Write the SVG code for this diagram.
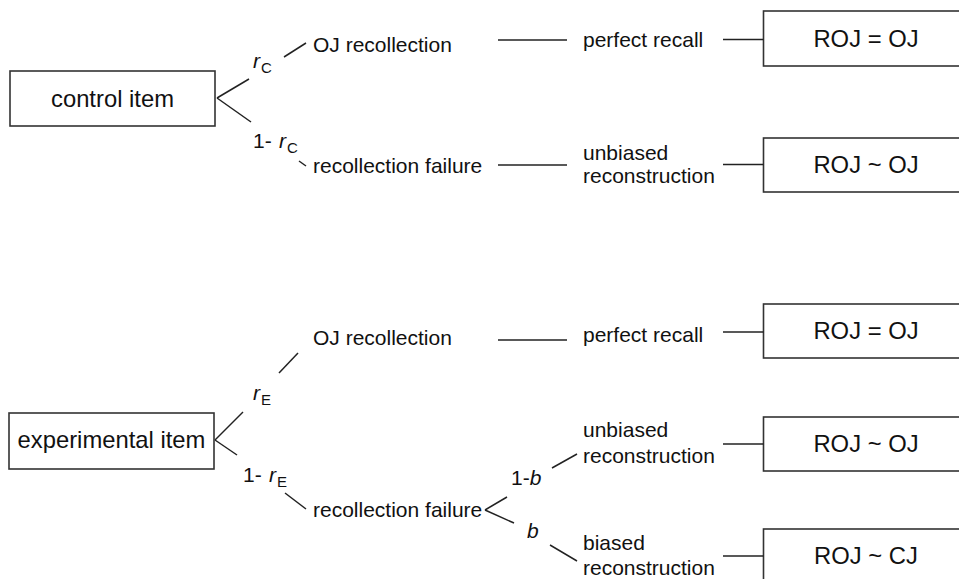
<svg xmlns="http://www.w3.org/2000/svg" width="959" height="579" viewBox="0 0 959 579">
<style>
  .box { fill: #fff; stroke: #333; stroke-width: 1.6; }
  .bt { font-family: "Liberation Sans", Arial, sans-serif; font-size: 23.8px; fill: #111; text-anchor: middle; }
  .lb { font-family: "Liberation Sans", Arial, sans-serif; font-size: 21px; fill: #111; }
  .it { font-style: italic; }
  .sub { font-size: 15px; }
  .ln { stroke: #222; stroke-width: 1.5; fill: none; }
</style>
<rect width="959" height="579" fill="#fff"/>

<g id="control-item">
  <rect class="box" x="10" y="71" width="205" height="55"/>
  <text class="bt" x="112.5" y="107">control item</text>
</g>
<g id="experimental-item">
  <rect class="box" x="9" y="413" width="205" height="56"/>
  <text class="bt" x="111.5" y="448">experimental item</text>
</g>

<g id="c-oj-recollection"><text class="lb" x="313" y="52">OJ recollection</text></g>
<g id="c-recollection-failure"><text class="lb" x="313" y="173">recollection failure</text></g>
<g id="c-perfect-recall"><text class="lb" x="583" y="47">perfect recall</text></g>
<g id="c-unbiased"><text class="lb" x="583" y="160">unbiased</text><text class="lb" x="583" y="183">reconstruction</text></g>

<g id="e-oj-recollection"><text class="lb" x="313" y="345">OJ recollection</text></g>
<g id="e-recollection-failure"><text class="lb" x="313" y="517">recollection failure</text></g>
<g id="e-perfect-recall"><text class="lb" x="583" y="342">perfect recall</text></g>
<g id="e-unbiased"><text class="lb" x="583" y="437">unbiased</text><text class="lb" x="583" y="463">reconstruction</text></g>
<g id="e-biased"><text class="lb" x="583" y="550">biased</text><text class="lb" x="583" y="575">reconstruction</text></g>

<g id="res-1"><rect class="box" x="763.5" y="11" width="210" height="55"/><text class="bt" x="866" y="47">ROJ = OJ</text></g>
<g id="res-2"><rect class="box" x="763.5" y="138" width="210" height="54"/><text class="bt" x="866" y="173">ROJ ~ OJ</text></g>
<g id="res-3"><rect class="box" x="763.5" y="304" width="210" height="54"/><text class="bt" x="866" y="338.5">ROJ = OJ</text></g>
<g id="res-4"><rect class="box" x="763.5" y="417" width="210" height="54"/><text class="bt" x="866" y="452">ROJ ~ OJ</text></g>
<g id="res-5"><rect class="box" x="763.5" y="529" width="210" height="60"/><text class="bt" x="866" y="563.5">ROJ ~ CJ</text></g>

<g id="prob-labels">
  <text class="lb" x="253" y="68"><tspan class="it">r</tspan><tspan class="sub" x="261" y="73">C</tspan></text>
  <text class="lb" x="253" y="148">1- <tspan class="it" x="279">r</tspan><tspan class="sub" x="287" y="153">C</tspan></text>
  <text class="lb" x="253" y="400"><tspan class="it">r</tspan><tspan class="sub" x="261" y="405">E</tspan></text>
  <text class="lb" x="243" y="482">1- <tspan class="it" x="269">r</tspan><tspan class="sub" x="277" y="487">E</tspan></text>
  <text class="lb" x="511" y="485">1-<tspan class="it">b</tspan></text>
  <text class="lb it" x="527" y="538">b</text>
</g>

<g id="connectors">
  <line class="ln" x1="217" y1="98" x2="249" y2="79"/>
  <line class="ln" x1="217" y1="98" x2="251" y2="122"/>
  <line class="ln" x1="284" y1="57" x2="306" y2="43"/>
  <line class="ln" x1="299" y1="161" x2="306" y2="166"/>
  <line class="ln" x1="498" y1="40" x2="567" y2="40"/>
  <line class="ln" x1="498" y1="165" x2="567" y2="165"/>
  <line class="ln" x1="723" y1="39.5" x2="763.5" y2="39.5"/>
  <line class="ln" x1="723" y1="164.5" x2="763.5" y2="164.5"/>

  <line class="ln" x1="215" y1="440" x2="243" y2="412"/>
  <line class="ln" x1="215" y1="440" x2="237" y2="455"/>
  <line class="ln" x1="279" y1="373" x2="298" y2="353"/>
  <line class="ln" x1="285" y1="493" x2="306" y2="509"/>
  <line class="ln" x1="498" y1="340" x2="567" y2="340"/>
  <line class="ln" x1="723" y1="332" x2="763.5" y2="332"/>
  <line class="ln" x1="723" y1="444" x2="763.5" y2="444"/>
  <line class="ln" x1="723" y1="556" x2="763.5" y2="556"/>
  <line class="ln" x1="485" y1="510" x2="507" y2="497"/>
  <line class="ln" x1="485" y1="510" x2="514" y2="523"/>
  <line class="ln" x1="552" y1="468" x2="577" y2="454"/>
  <line class="ln" x1="550" y1="545" x2="577" y2="561"/>
</g>
</svg>
